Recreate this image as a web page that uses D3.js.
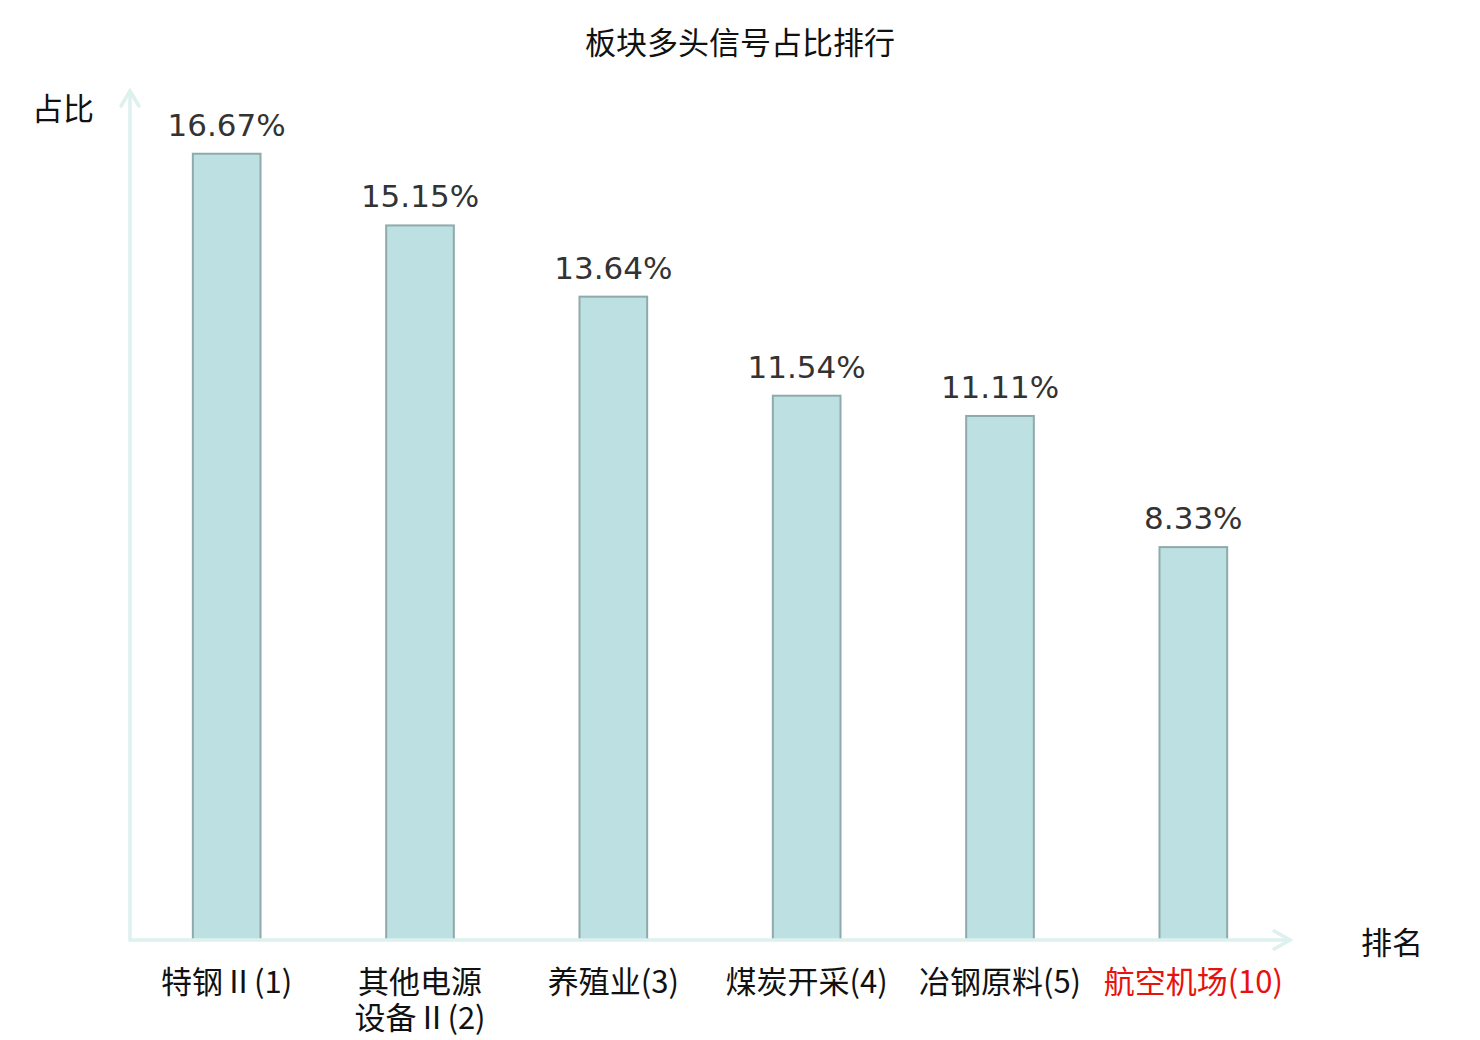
<html>
<head>
  <title>板块多头信号占比排行</title>
  <script src="https://d3js.org/d3.v7.min.js"></script>
  <style>
    body { margin: 0; background: #ffffff; }
    text { font-family: "Noto Sans CJK SC", "DejaVu Sans", sans-serif; }
    .value-label { font-family: "DejaVu Sans", sans-serif; }
  </style>
</head>
<body>
  <svg id="chart" width="1480" height="1040"></svg>
  <script>
    // data
    const categories = ["特钢Ⅱ(1)", "其他电源\n设备Ⅱ(2)", "养殖业(3)", "煤炭开采(4)", "冶钢原料(5)", "航空机场(10)"];
    const ratios = [16.67, 15.15, 13.64, 11.54, 11.11, 8.33];
    const highlighted = ["航空机场(10)"];

    const axisColor = "#ddf1ee";
    const plotLeft = 130, plotRight = 1290, plotBottom = 940, plotTop = 91;

    const svg = d3.select("#chart");

    const x = d3.scaleBand()
      .domain(categories)
      .range([plotLeft, plotRight])
      .paddingInner(0.65)
      .paddingOuter(0.325);

    const y = d3.scaleLinear()
      .domain([0, 18])
      .range([plotBottom, plotTop]);

    // title
    svg.append("text")
      .attr("x", 740)
      .attr("y", 54)
      .attr("text-anchor", "middle")
      .attr("font-size", "31px")
      .attr("fill", "#111")
      .text("板块多头信号占比排行");

    // bars
    svg.selectAll("rect.bar")
      .data(categories)
      .join("rect")
      .attr("class", "bar")
      .attr("x", d => x(d))
      .attr("width", x.bandwidth())
      .attr("y", (d, i) => y(ratios[i]))
      .attr("height", (d, i) => plotBottom - y(ratios[i]))
      .attr("fill", "#bde0e3")
      .attr("stroke", "#8faaab")
      .attr("stroke-width", 2);

    // value labels
    svg.selectAll("text.value-label")
      .data(categories)
      .join("text")
      .attr("class", "value-label")
      .attr("x", d => x(d) + x.bandwidth() / 2)
      .attr("y", (d, i) => y(ratios[i]) - 18)
      .attr("text-anchor", "middle")
      .attr("font-size", "31px")
      .attr("fill", "#333")
      .text((d, i) => ratios[i].toFixed(2) + "%");

    // axes with arrows
    const axes = svg.append("g")
      .attr("stroke", axisColor)
      .attr("stroke-width", 3.5)
      .attr("fill", "none")
      .attr("stroke-linecap", "round");

    axes.append("line").attr("x1", plotLeft).attr("y1", plotBottom).attr("x2", plotLeft).attr("y2", plotTop);
    axes.append("path").attr("d", `M${plotLeft - 9},${plotTop + 15}L${plotLeft},${plotTop}L${plotLeft + 9},${plotTop + 15}`);
    axes.append("line").attr("x1", plotLeft).attr("y1", plotBottom).attr("x2", plotRight).attr("y2", plotBottom);
    axes.append("path").attr("d", `M${plotRight - 16},${plotBottom - 9}L${plotRight},${plotBottom}L${plotRight - 16},${plotBottom + 9}`);

    // axis names
    svg.append("text")
      .attr("x", 63)
      .attr("y", 120)
      .attr("text-anchor", "middle")
      .attr("font-size", "31px")
      .attr("fill", "#111")
      .text("占比");

    svg.append("text")
      .attr("x", 1392)
      .attr("y", 954)
      .attr("text-anchor", "middle")
      .attr("font-size", "31px")
      .attr("fill", "#111")
      .text("排名");

    // category labels
    const catLabels = svg.selectAll("text.cat")
      .data(categories)
      .join("text")
      .attr("class", "cat")
      .attr("x", d => x(d) + x.bandwidth() / 2)
      .attr("y", 993)
      .attr("text-anchor", "middle")
      .attr("font-size", "31px")
      .attr("fill", d => highlighted.includes(d) ? "#e8120c" : "#111");

    catLabels.selectAll("tspan")
      .data(d => d.split("\n"))
      .join("tspan")
      .attr("x", function () { return d3.select(this.parentNode).attr("x"); })
      .attr("dy", (d, i) => i === 0 ? 0 : 36)
      .text(d => d);
  </script>
</body>
</html>
